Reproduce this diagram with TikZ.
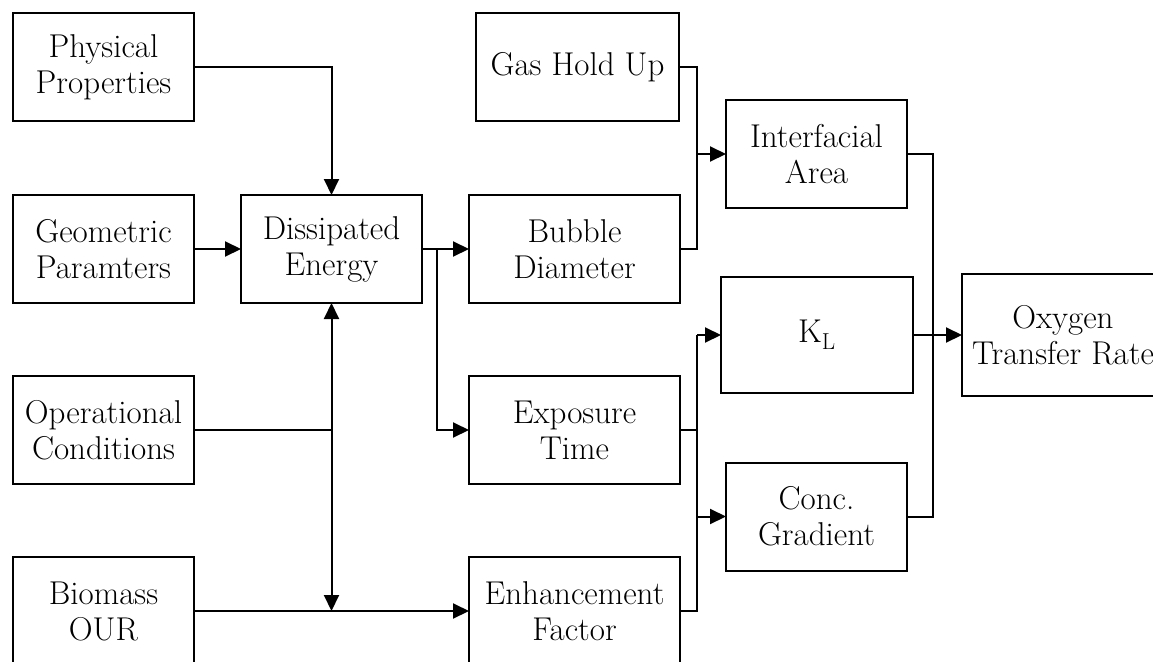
\documentclass[tikz,border=0pt]{standalone}
\usetikzlibrary{arrows.meta}
\tikzset{
  box/.style={draw, rectangle, align=center, inner sep=0pt, outer sep=0pt,
    minimum width=181pt, minimum height=108pt, font=\fontsize{33}{36}\selectfont},
  conn/.style={-{Triangle[length=16pt,width=15pt]}}
}
\begin{document}
\begin{tikzpicture}[x=1pt,y=-1pt,line width=2pt]
\useasboundingbox (0,0) rectangle (1153,661);
\node[box] (phys) at (103.5,67) {Physical\\Properties};
\node[box] (geom) at (103.5,249) {Geometric\\Paramters};
\node[box] (oper) at (103.5,430) {Operational\\Conditions};
\node[box] (bio) at (103.5,611) {Biomass\\OUR};
\node[box] (diss) at (331.5,249) {Dissipated\\Energy};
\node[box, minimum width=211pt] (bub) at (574.5,249) {Bubble\\Diameter};
\node[box, minimum width=211pt] (expo) at (574.5,430) {Exposure\\Time};
\node[box, minimum width=211pt] (enh) at (574.5,611) {Enhancement\\Factor};
\node[box, minimum width=203pt] (gas) at (577.5,67) {Gas Hold Up};
\node[box] (inter) at (816.5,154) {Interfacial\\Area};
\node[box, minimum width=192pt, minimum height=116pt] (kl) at (817,335) {K\textsubscript{L}};
\node[box] (conc) at (816.5,516.5) {Conc.\\Gradient};
\node[box, minimum width=202pt, minimum height=122pt] (otr) at (1063,335) {Oxygen\\Transfer Rate};

\coordinate (j1) at (diss.south |- oper.east);
\coordinate (j2) at (diss.south |- bio.east);
\coordinate (b1) at (437,249);
\coordinate (gx) at (697,67);
\coordinate (rx) at (933,154);

\draw[conn] (phys.east) -| (diss.north);
\draw[conn] (geom.east) -- (diss.west);
\draw (oper.east) -- (j1);
\draw[conn] (j1) -- (diss.south);
\draw[conn] (j1) -- (j2);
\draw[conn] (bio.east) -- (enh.west);
\draw[conn] (diss.east) -- (bub.west);
\draw[conn] (b1) |- (expo.west);
\draw (gas.east) -- (gx) |- (bub.east);
\draw[conn] (gx |- inter.west) -- (inter.west);
\draw (expo.east) -- (expo.east -| gx);
\draw (enh.east) -| (gx |- kl.west);
\draw[conn] (gx |- kl.west) -- (kl.west);
\draw[conn] (gx |- conc.west) -- (conc.west);
\draw (inter.east) -- (rx) |- (conc.east);
\draw[conn] (kl.east) -- (otr.west);
\end{tikzpicture}
\end{document}
